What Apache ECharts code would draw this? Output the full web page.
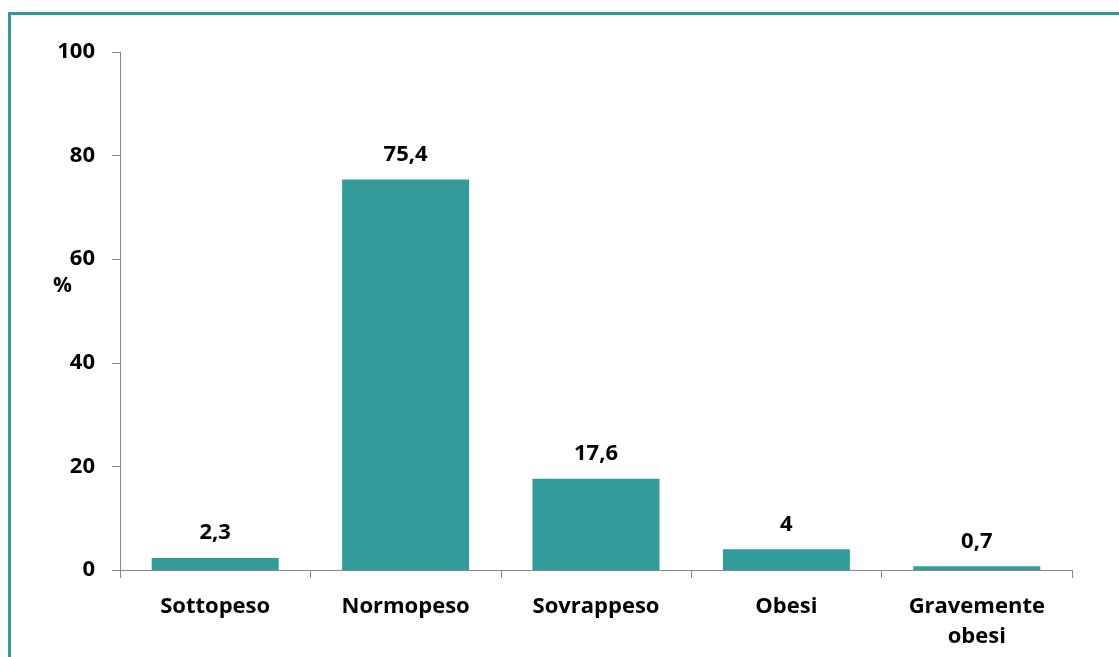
<!DOCTYPE html>
<html><head><meta charset="utf-8">
<script src="https://cdn.jsdelivr.net/npm/echarts@6/dist/echarts.min.js"></script>
<style>html,body{margin:0;padding:0;background:#fff}#c{width:1119px;height:657px}</style>
</head><body><div id="c"></div>
<script>
const categories = ['Sottopeso', 'Normopeso', 'Sovrappeso', 'Obesi', 'Gravemente\nobesi'];
const values = [2.3, 75.4, 17.6, 4, 0.7];
const yTicks = [0, 20, 40, 60, 80, 100];
const yLabel = '%';

const font = '"Open Sans", Lato, sans-serif';
const chart = echarts.init(document.getElementById('c'));
chart.setOption({
  animation: false,
  backgroundColor: '#fff',
  grid: { left: 120, right: 47, top: 52, bottom: 87 },
  graphic: [
    { type: 'rect', shape: { x: 9.5, y: 13.5, width: 1200, height: 700 },
      style: { fill: 'none', stroke: '#339B97', lineWidth: 3 }, silent: true },
    { type: 'text', left: 53, top: 276, style: { text: yLabel, font: 'bold 21px ' + font, fill: '#000' } }
  ],
  xAxis: {
    type: 'category', data: categories,
    axisLine: { lineStyle: { color: '#888', width: 1 } },
    axisTick: { show: true, length: 8, lineStyle: { color: '#888' }, alignWithLabel: false },
    axisLabel: { color: '#000', fontFamily: font, fontWeight: 'bold', fontSize: 22, margin: 22, lineHeight: 30, interval: 0 }
  },
  yAxis: {
    type: 'value', min: yTicks[0], max: yTicks[yTicks.length - 1], interval: 20,
    axisLine: { show: true, lineStyle: { color: '#888', width: 1 } },
    axisTick: { show: true, length: 8, lineStyle: { color: '#888' } },
    splitLine: { show: false },
    axisLabel: { color: '#000', fontFamily: font, fontWeight: 'bold', fontSize: 22, margin: 25 }
  },
  series: [{
    type: 'bar', data: values, barCategoryGap: '33.3%',
    itemStyle: { color: '#339B99' },
    label: { show: true, position: 'top', distance: 14, color: '#000', fontFamily: font, fontWeight: 'bold', fontSize: 22,
      formatter: p => String(p.value).replace('.', ',') }
  }]
});
</script></body></html>
